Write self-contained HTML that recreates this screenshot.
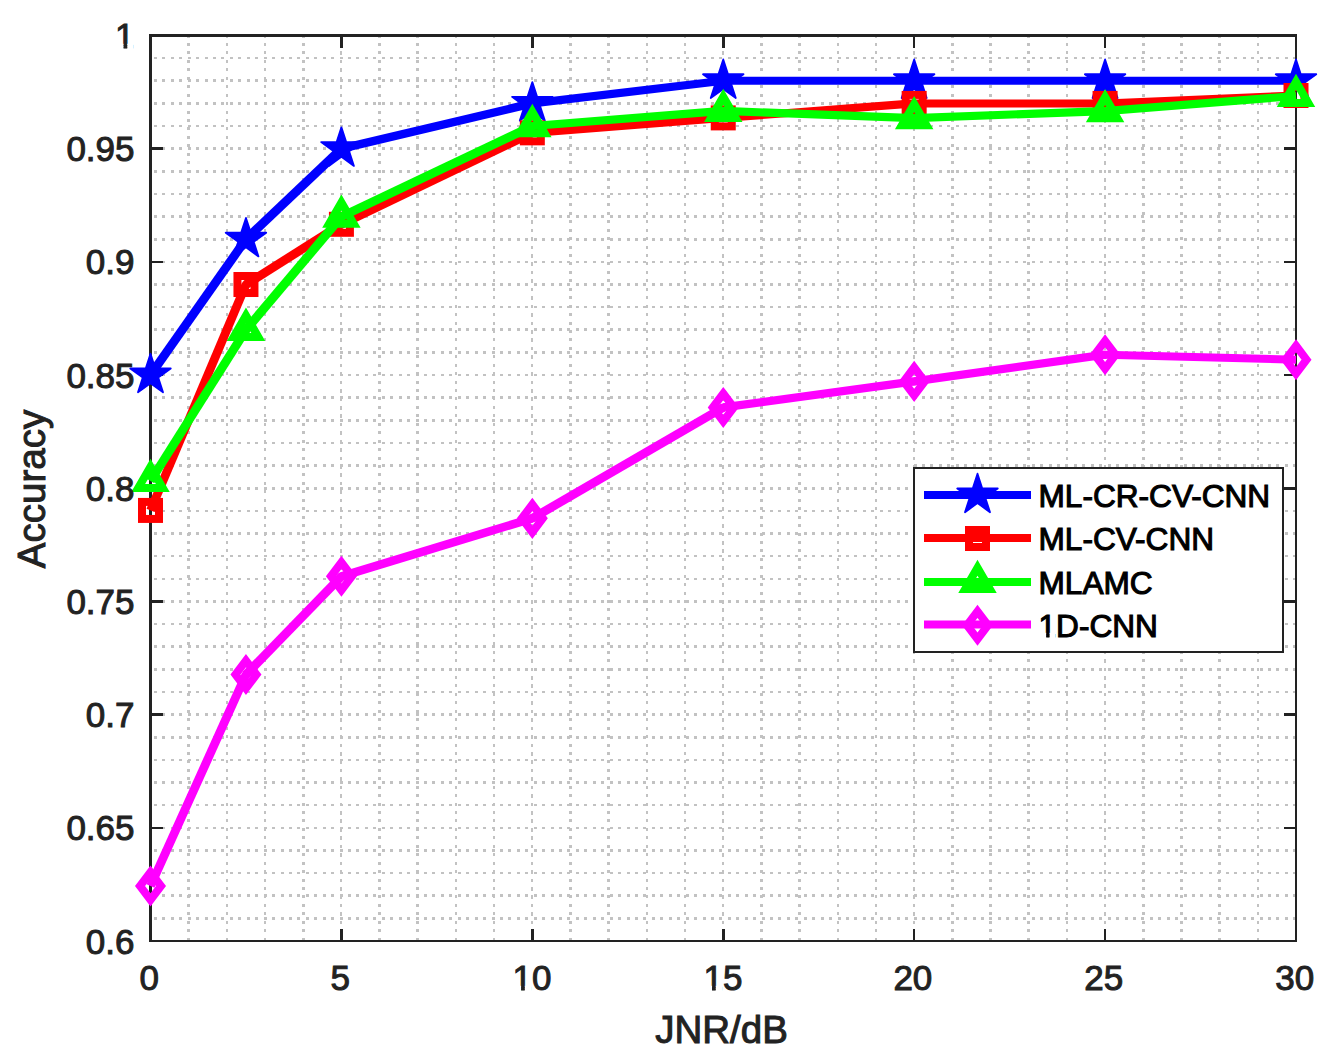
<!DOCTYPE html>
<html lang="en"><head><meta charset="utf-8"><title>Accuracy vs JNR</title>
<style>html,body{margin:0;padding:0;background:#fff}body{width:1329px;height:1062px;overflow:hidden}svg{display:block}text{font-family:"Liberation Sans",Arial,Helvetica,sans-serif}</style></head><body>
<svg width="1329" height="1062" viewBox="0 0 1329 1062">
<rect width="1329" height="1062" fill="#fff"/>
<g stroke="#c2c2c2" stroke-width="2.6" stroke-dasharray="3 5.44" fill="none" shape-rendering="crispEdges">
<line x1="188.68" y1="36" x2="188.68" y2="941" stroke-dashoffset="1.44"/>
<line x1="226.87" y1="36" x2="226.87" y2="941" stroke-dashoffset="1.44"/>
<line x1="265.05" y1="36" x2="265.05" y2="941" stroke-dashoffset="1.44"/>
<line x1="303.23" y1="36" x2="303.23" y2="941" stroke-dashoffset="1.44"/>
<line x1="341.42" y1="36" x2="341.42" y2="941" stroke-dashoffset="1.44" stroke-width="2" stroke-dasharray="3.6 4.84"/>
<line x1="379.6" y1="36" x2="379.6" y2="941" stroke-dashoffset="1.44"/>
<line x1="417.78" y1="36" x2="417.78" y2="941" stroke-dashoffset="1.44"/>
<line x1="455.97" y1="36" x2="455.97" y2="941" stroke-dashoffset="1.44"/>
<line x1="494.15" y1="36" x2="494.15" y2="941" stroke-dashoffset="1.44"/>
<line x1="532.33" y1="36" x2="532.33" y2="941" stroke-dashoffset="1.44" stroke-width="2" stroke-dasharray="3.6 4.84"/>
<line x1="570.52" y1="36" x2="570.52" y2="941" stroke-dashoffset="1.44"/>
<line x1="608.7" y1="36" x2="608.7" y2="941" stroke-dashoffset="1.44"/>
<line x1="646.88" y1="36" x2="646.88" y2="941" stroke-dashoffset="1.44"/>
<line x1="685.07" y1="36" x2="685.07" y2="941" stroke-dashoffset="1.44"/>
<line x1="723.25" y1="36" x2="723.25" y2="941" stroke-dashoffset="1.44" stroke-width="2" stroke-dasharray="3.6 4.84"/>
<line x1="761.43" y1="36" x2="761.43" y2="941" stroke-dashoffset="1.44"/>
<line x1="799.62" y1="36" x2="799.62" y2="941" stroke-dashoffset="1.44"/>
<line x1="837.8" y1="36" x2="837.8" y2="941" stroke-dashoffset="1.44"/>
<line x1="875.98" y1="36" x2="875.98" y2="941" stroke-dashoffset="1.44"/>
<line x1="914.17" y1="36" x2="914.17" y2="941" stroke-dashoffset="1.44" stroke-width="2" stroke-dasharray="3.6 4.84"/>
<line x1="952.35" y1="36" x2="952.35" y2="941" stroke-dashoffset="1.44"/>
<line x1="990.53" y1="36" x2="990.53" y2="941" stroke-dashoffset="1.44"/>
<line x1="1028.72" y1="36" x2="1028.72" y2="941" stroke-dashoffset="1.44"/>
<line x1="1066.9" y1="36" x2="1066.9" y2="941" stroke-dashoffset="1.44"/>
<line x1="1105.08" y1="36" x2="1105.08" y2="941" stroke-dashoffset="1.44" stroke-width="2" stroke-dasharray="3.6 4.84"/>
<line x1="1143.27" y1="36" x2="1143.27" y2="941" stroke-dashoffset="1.44"/>
<line x1="1181.45" y1="36" x2="1181.45" y2="941" stroke-dashoffset="1.44"/>
<line x1="1219.63" y1="36" x2="1219.63" y2="941" stroke-dashoffset="1.44"/>
<line x1="1257.82" y1="36" x2="1257.82" y2="941" stroke-dashoffset="1.44"/>
<line x1="150.5" y1="918.36" x2="1296" y2="918.36" stroke-dashoffset="-3.4"/>
<line x1="150.5" y1="895.72" x2="1296" y2="895.72" stroke-dashoffset="-3.4"/>
<line x1="150.5" y1="873.09" x2="1296" y2="873.09" stroke-dashoffset="-3.4"/>
<line x1="150.5" y1="850.45" x2="1296" y2="850.45" stroke-dashoffset="-3.4"/>
<line x1="150.5" y1="827.81" x2="1296" y2="827.81" stroke-dashoffset="-3.4"/>
<line x1="150.5" y1="805.18" x2="1296" y2="805.18" stroke-dashoffset="-3.4"/>
<line x1="150.5" y1="782.54" x2="1296" y2="782.54" stroke-dashoffset="-3.4"/>
<line x1="150.5" y1="759.9" x2="1296" y2="759.9" stroke-dashoffset="-3.4"/>
<line x1="150.5" y1="737.26" x2="1296" y2="737.26" stroke-dashoffset="-3.4"/>
<line x1="150.5" y1="714.62" x2="1296" y2="714.62" stroke-dashoffset="-3.4"/>
<line x1="150.5" y1="691.99" x2="1296" y2="691.99" stroke-dashoffset="-3.4"/>
<line x1="150.5" y1="669.35" x2="1296" y2="669.35" stroke-dashoffset="-3.4"/>
<line x1="150.5" y1="646.71" x2="1296" y2="646.71" stroke-dashoffset="-3.4"/>
<line x1="150.5" y1="624.08" x2="1296" y2="624.08" stroke-dashoffset="-3.4"/>
<line x1="150.5" y1="601.44" x2="1296" y2="601.44" stroke-dashoffset="-3.4"/>
<line x1="150.5" y1="578.8" x2="1296" y2="578.8" stroke-dashoffset="-3.4"/>
<line x1="150.5" y1="556.16" x2="1296" y2="556.16" stroke-dashoffset="-3.4"/>
<line x1="150.5" y1="533.52" x2="1296" y2="533.52" stroke-dashoffset="-3.4"/>
<line x1="150.5" y1="510.89" x2="1296" y2="510.89" stroke-dashoffset="-3.4"/>
<line x1="150.5" y1="488.25" x2="1296" y2="488.25" stroke-dashoffset="-3.4"/>
<line x1="150.5" y1="465.61" x2="1296" y2="465.61" stroke-dashoffset="-3.4"/>
<line x1="150.5" y1="442.98" x2="1296" y2="442.98" stroke-dashoffset="-3.4"/>
<line x1="150.5" y1="420.34" x2="1296" y2="420.34" stroke-dashoffset="-3.4"/>
<line x1="150.5" y1="397.7" x2="1296" y2="397.7" stroke-dashoffset="-3.4"/>
<line x1="150.5" y1="375.06" x2="1296" y2="375.06" stroke-dashoffset="-3.4"/>
<line x1="150.5" y1="352.43" x2="1296" y2="352.43" stroke-dashoffset="-3.4"/>
<line x1="150.5" y1="329.79" x2="1296" y2="329.79" stroke-dashoffset="-3.4"/>
<line x1="150.5" y1="307.15" x2="1296" y2="307.15" stroke-dashoffset="-3.4"/>
<line x1="150.5" y1="284.51" x2="1296" y2="284.51" stroke-dashoffset="-3.4"/>
<line x1="150.5" y1="261.88" x2="1296" y2="261.88" stroke-dashoffset="-3.4"/>
<line x1="150.5" y1="239.24" x2="1296" y2="239.24" stroke-dashoffset="-3.4"/>
<line x1="150.5" y1="216.6" x2="1296" y2="216.6" stroke-dashoffset="-3.4"/>
<line x1="150.5" y1="193.96" x2="1296" y2="193.96" stroke-dashoffset="-3.4"/>
<line x1="150.5" y1="171.33" x2="1296" y2="171.33" stroke-dashoffset="-3.4"/>
<line x1="150.5" y1="148.69" x2="1296" y2="148.69" stroke-dashoffset="-3.4"/>
<line x1="150.5" y1="126.05" x2="1296" y2="126.05" stroke-dashoffset="-3.4"/>
<line x1="150.5" y1="103.41" x2="1296" y2="103.41" stroke-dashoffset="-3.4"/>
<line x1="150.5" y1="80.77" x2="1296" y2="80.77" stroke-dashoffset="-3.4"/>
<line x1="150.5" y1="58.14" x2="1296" y2="58.14" stroke-dashoffset="-3.4"/>
</g>
<g stroke="#222222" stroke-width="2.5" fill="none" shape-rendering="crispEdges">
<rect x="150.5" y="35.5" width="1145.5" height="905.5"/>
<line x1="341.42" y1="941" x2="341.42" y2="928.7"/>
<line x1="341.42" y1="35.5" x2="341.42" y2="47.8"/>
<line x1="532.33" y1="941" x2="532.33" y2="928.7"/>
<line x1="532.33" y1="35.5" x2="532.33" y2="47.8"/>
<line x1="723.25" y1="941" x2="723.25" y2="928.7"/>
<line x1="723.25" y1="35.5" x2="723.25" y2="47.8"/>
<line x1="914.17" y1="941" x2="914.17" y2="928.7"/>
<line x1="914.17" y1="35.5" x2="914.17" y2="47.8"/>
<line x1="1105.08" y1="941" x2="1105.08" y2="928.7"/>
<line x1="1105.08" y1="35.5" x2="1105.08" y2="47.8"/>
<line x1="150.5" y1="827.81" x2="162.8" y2="827.81"/>
<line x1="1296" y1="827.81" x2="1283.7" y2="827.81"/>
<line x1="150.5" y1="714.62" x2="162.8" y2="714.62"/>
<line x1="1296" y1="714.62" x2="1283.7" y2="714.62"/>
<line x1="150.5" y1="601.44" x2="162.8" y2="601.44"/>
<line x1="1296" y1="601.44" x2="1283.7" y2="601.44"/>
<line x1="150.5" y1="488.25" x2="162.8" y2="488.25"/>
<line x1="1296" y1="488.25" x2="1283.7" y2="488.25"/>
<line x1="150.5" y1="375.06" x2="162.8" y2="375.06"/>
<line x1="1296" y1="375.06" x2="1283.7" y2="375.06"/>
<line x1="150.5" y1="261.88" x2="162.8" y2="261.88"/>
<line x1="1296" y1="261.88" x2="1283.7" y2="261.88"/>
<line x1="150.5" y1="148.69" x2="162.8" y2="148.69"/>
<line x1="1296" y1="148.69" x2="1283.7" y2="148.69"/>
</g>
<g>
<line x1="150.5" y1="375.06" x2="245.96" y2="239.24" stroke="#0000ff" stroke-width="8.85"/>
<line x1="245.96" y1="239.24" x2="341.42" y2="148.69" stroke="#0000ff" stroke-width="8.9"/>
<line x1="341.42" y1="148.69" x2="532.33" y2="103.41" stroke="#0000ff" stroke-width="8.4"/>
<line x1="532.33" y1="103.41" x2="723.25" y2="80.77" stroke="#0000ff" stroke-width="8.21"/>
<line x1="723.25" y1="80.77" x2="914.17" y2="80.77" stroke="#0000ff" stroke-width="8"/>
<line x1="914.17" y1="80.77" x2="1105.08" y2="80.77" stroke="#0000ff" stroke-width="8"/>
<line x1="1105.08" y1="80.77" x2="1296" y2="80.77" stroke="#0000ff" stroke-width="8"/>
<circle cx="245.96" cy="239.24" r="4" fill="#0000ff"/>
<circle cx="341.42" cy="148.69" r="4" fill="#0000ff"/>
<circle cx="532.33" cy="103.41" r="4" fill="#0000ff"/>
<circle cx="723.25" cy="80.77" r="4" fill="#0000ff"/>
<circle cx="914.17" cy="80.77" r="4" fill="#0000ff"/>
<circle cx="1105.08" cy="80.77" r="4" fill="#0000ff"/>
<polygon points="150.5,353.76 155.28,368.48 170.76,368.48 158.24,377.58 163.02,392.29 150.5,383.2 137.98,392.29 142.76,377.58 130.24,368.48 145.72,368.48" fill="#0000ff" stroke="#0000ff" stroke-width="1.8" stroke-linejoin="round"/>
<polygon points="245.96,217.94 250.74,232.65 266.22,232.66 253.7,241.75 258.48,256.47 245.96,247.37 233.44,256.47 238.22,241.75 225.7,232.66 241.18,232.65" fill="#0000ff" stroke="#0000ff" stroke-width="1.8" stroke-linejoin="round"/>
<polygon points="341.42,127.39 346.2,142.1 361.67,142.11 349.16,151.2 353.94,165.92 341.42,156.82 328.9,165.92 333.68,151.2 321.16,142.11 336.63,142.1" fill="#0000ff" stroke="#0000ff" stroke-width="1.8" stroke-linejoin="round"/>
<polygon points="532.33,82.11 537.12,96.83 552.59,96.83 540.07,105.93 544.85,120.64 532.33,111.55 519.81,120.64 524.59,105.93 512.08,96.83 527.55,96.83" fill="#0000ff" stroke="#0000ff" stroke-width="1.8" stroke-linejoin="round"/>
<polygon points="723.25,59.47 728.03,74.19 743.51,74.19 730.99,83.29 735.77,98.01 723.25,88.91 710.73,98.01 715.51,83.29 702.99,74.19 718.47,74.19" fill="#0000ff" stroke="#0000ff" stroke-width="1.8" stroke-linejoin="round"/>
<polygon points="914.17,59.47 918.95,74.19 934.42,74.19 921.91,83.29 926.69,98.01 914.17,88.91 901.65,98.01 906.43,83.29 893.91,74.19 909.38,74.19" fill="#0000ff" stroke="#0000ff" stroke-width="1.8" stroke-linejoin="round"/>
<polygon points="1105.08,59.47 1109.87,74.19 1125.34,74.19 1112.82,83.29 1117.6,98.01 1105.08,88.91 1092.56,98.01 1097.34,83.29 1084.83,74.19 1100.3,74.19" fill="#0000ff" stroke="#0000ff" stroke-width="1.8" stroke-linejoin="round"/>
<polygon points="1296,59.47 1300.78,74.19 1316.26,74.19 1303.74,83.29 1308.52,98.01 1296,88.91 1283.48,98.01 1288.26,83.29 1275.74,74.19 1291.22,74.19" fill="#0000ff" stroke="#0000ff" stroke-width="1.8" stroke-linejoin="round"/>
</g>
<g>
<line x1="150.5" y1="510.43" x2="245.96" y2="284.51" stroke="#ff0000" stroke-width="8.65"/>
<line x1="245.96" y1="284.51" x2="341.42" y2="224.3" stroke="#ff0000" stroke-width="8.81"/>
<line x1="341.42" y1="224.3" x2="532.33" y2="132.84" stroke="#ff0000" stroke-width="8.7"/>
<line x1="532.33" y1="132.84" x2="723.25" y2="117.9" stroke="#ff0000" stroke-width="8.14"/>
<line x1="723.25" y1="117.9" x2="914.17" y2="103.41" stroke="#ff0000" stroke-width="8.14"/>
<line x1="914.17" y1="103.41" x2="1105.08" y2="103.41" stroke="#ff0000" stroke-width="8"/>
<line x1="1105.08" y1="103.41" x2="1296" y2="95.49" stroke="#ff0000" stroke-width="8.07"/>
<circle cx="245.96" cy="284.51" r="4" fill="#ff0000"/>
<circle cx="341.42" cy="224.3" r="4" fill="#ff0000"/>
<circle cx="532.33" cy="132.84" r="4" fill="#ff0000"/>
<circle cx="723.25" cy="117.9" r="4" fill="#ff0000"/>
<circle cx="914.17" cy="103.41" r="4" fill="#ff0000"/>
<circle cx="1105.08" cy="103.41" r="4" fill="#ff0000"/>
<rect x="142" y="501.93" width="17" height="17" fill="none" stroke="#ff0000" stroke-width="8"/>
<rect x="237.46" y="276.01" width="17" height="17" fill="none" stroke="#ff0000" stroke-width="8"/>
<rect x="332.92" y="215.8" width="17" height="17" fill="none" stroke="#ff0000" stroke-width="8"/>
<rect x="523.83" y="124.34" width="17" height="17" fill="none" stroke="#ff0000" stroke-width="8"/>
<rect x="714.75" y="109.4" width="17" height="17" fill="none" stroke="#ff0000" stroke-width="8"/>
<rect x="905.67" y="94.91" width="17" height="17" fill="none" stroke="#ff0000" stroke-width="8"/>
<rect x="1096.58" y="94.91" width="17" height="17" fill="none" stroke="#ff0000" stroke-width="8"/>
<rect x="1287.5" y="86.99" width="17" height="17" fill="none" stroke="#ff0000" stroke-width="8"/>
</g>
<g>
<line x1="150.5" y1="481.01" x2="245.96" y2="329.79" stroke="#00ff00" stroke-width="8.81"/>
<line x1="245.96" y1="329.79" x2="341.42" y2="216.6" stroke="#00ff00" stroke-width="8.89"/>
<line x1="341.42" y1="216.6" x2="532.33" y2="126.05" stroke="#00ff00" stroke-width="8.7"/>
<line x1="532.33" y1="126.05" x2="723.25" y2="110.88" stroke="#00ff00" stroke-width="8.14"/>
<line x1="723.25" y1="110.88" x2="914.17" y2="118.13" stroke="#00ff00" stroke-width="8.07"/>
<line x1="914.17" y1="118.13" x2="1105.08" y2="111.11" stroke="#00ff00" stroke-width="8.07"/>
<line x1="1105.08" y1="111.11" x2="1296" y2="95.94" stroke="#00ff00" stroke-width="8.14"/>
<circle cx="245.96" cy="329.79" r="4" fill="#00ff00"/>
<circle cx="341.42" cy="216.6" r="4" fill="#00ff00"/>
<circle cx="532.33" cy="126.05" r="4" fill="#00ff00"/>
<circle cx="723.25" cy="110.88" r="4" fill="#00ff00"/>
<circle cx="914.17" cy="118.13" r="4" fill="#00ff00"/>
<circle cx="1105.08" cy="111.11" r="4" fill="#00ff00"/>
<polygon points="150.5,466.81 162.8,488.11 138.2,488.11" fill="none" stroke="#00ff00" stroke-width="8" stroke-miterlimit="10"/>
<polygon points="245.96,315.59 258.26,336.89 233.66,336.89" fill="none" stroke="#00ff00" stroke-width="8" stroke-miterlimit="10"/>
<polygon points="341.42,202.4 353.71,223.7 329.12,223.7" fill="none" stroke="#00ff00" stroke-width="8" stroke-miterlimit="10"/>
<polygon points="532.33,111.85 544.63,133.15 520.04,133.15" fill="none" stroke="#00ff00" stroke-width="8" stroke-miterlimit="10"/>
<polygon points="723.25,96.68 735.55,117.98 710.95,117.98" fill="none" stroke="#00ff00" stroke-width="8" stroke-miterlimit="10"/>
<polygon points="914.17,103.93 926.46,125.23 901.87,125.23" fill="none" stroke="#00ff00" stroke-width="8" stroke-miterlimit="10"/>
<polygon points="1105.08,96.91 1117.38,118.21 1092.79,118.21" fill="none" stroke="#00ff00" stroke-width="8" stroke-miterlimit="10"/>
<polygon points="1296,81.74 1308.3,103.04 1283.7,103.04" fill="none" stroke="#00ff00" stroke-width="8" stroke-miterlimit="10"/>
</g>
<g>
<line x1="150.5" y1="885.99" x2="245.96" y2="674.56" stroke="#ff00ff" stroke-width="8.68"/>
<line x1="245.96" y1="674.56" x2="341.42" y2="576.31" stroke="#ff00ff" stroke-width="8.9"/>
<line x1="341.42" y1="576.31" x2="532.33" y2="518.36" stroke="#ff00ff" stroke-width="8.5"/>
<line x1="532.33" y1="518.36" x2="723.25" y2="407.43" stroke="#ff00ff" stroke-width="8.78"/>
<line x1="723.25" y1="407.43" x2="914.17" y2="381.4" stroke="#ff00ff" stroke-width="8.24"/>
<line x1="914.17" y1="381.4" x2="1105.08" y2="354.69" stroke="#ff00ff" stroke-width="8.25"/>
<line x1="1105.08" y1="354.69" x2="1296" y2="359.67" stroke="#ff00ff" stroke-width="8.05"/>
<circle cx="245.96" cy="674.56" r="4" fill="#ff00ff"/>
<circle cx="341.42" cy="576.31" r="4" fill="#ff00ff"/>
<circle cx="532.33" cy="518.36" r="4" fill="#ff00ff"/>
<circle cx="723.25" cy="407.43" r="4" fill="#ff00ff"/>
<circle cx="914.17" cy="381.4" r="4" fill="#ff00ff"/>
<circle cx="1105.08" cy="354.69" r="4" fill="#ff00ff"/>
<polygon points="150.5,872.09 161,885.99 150.5,899.89 140,885.99" fill="none" stroke="#ff00ff" stroke-width="8" stroke-miterlimit="10"/>
<polygon points="245.96,660.66 256.46,674.56 245.96,688.46 235.46,674.56" fill="none" stroke="#ff00ff" stroke-width="8" stroke-miterlimit="10"/>
<polygon points="341.42,562.41 351.92,576.31 341.42,590.21 330.92,576.31" fill="none" stroke="#ff00ff" stroke-width="8" stroke-miterlimit="10"/>
<polygon points="532.33,504.46 542.83,518.36 532.33,532.26 521.83,518.36" fill="none" stroke="#ff00ff" stroke-width="8" stroke-miterlimit="10"/>
<polygon points="723.25,393.53 733.75,407.43 723.25,421.33 712.75,407.43" fill="none" stroke="#ff00ff" stroke-width="8" stroke-miterlimit="10"/>
<polygon points="914.17,367.5 924.67,381.4 914.17,395.3 903.67,381.4" fill="none" stroke="#ff00ff" stroke-width="8" stroke-miterlimit="10"/>
<polygon points="1105.08,340.79 1115.58,354.69 1105.08,368.59 1094.58,354.69" fill="none" stroke="#ff00ff" stroke-width="8" stroke-miterlimit="10"/>
<polygon points="1296,345.77 1306.5,359.67 1296,373.57 1285.5,359.67" fill="none" stroke="#ff00ff" stroke-width="8" stroke-miterlimit="10"/>
</g>
<rect x="914" y="468" width="369" height="184" fill="#fff" stroke="#222222" stroke-width="2" shape-rendering="crispEdges"/>
<line x1="924" y1="495" x2="1031" y2="495" stroke="#0000ff" stroke-width="8"/>
<polygon points="977.5,473.7 982.28,488.42 997.76,488.42 985.24,497.51 990.02,512.23 977.5,503.14 964.98,512.23 969.76,497.51 957.24,488.42 972.72,488.42" fill="#0000ff" stroke="#0000ff" stroke-width="1.8" stroke-linejoin="round"/>
<text x="1038.5" y="507" font-size="31.6" fill="#000" stroke="#000" stroke-width="1.1" >ML-CR-CV-CNN</text>
<line x1="924" y1="538" x2="1031" y2="538" stroke="#ff0000" stroke-width="8"/>
<rect x="969" y="530" width="17" height="17" fill="none" stroke="#ff0000" stroke-width="8"/>
<text x="1038.5" y="550" font-size="31.6" fill="#000" stroke="#000" stroke-width="1.1" >ML-CV-CNN</text>
<line x1="924" y1="582" x2="1031" y2="582" stroke="#00ff00" stroke-width="8"/>
<polygon points="977.5,567.8 989.8,589.1 965.2,589.1" fill="none" stroke="#00ff00" stroke-width="8" stroke-miterlimit="10"/>
<text x="1038.5" y="594" font-size="31.6" fill="#000" stroke="#000" stroke-width="1.1" >MLAMC</text>
<line x1="924" y1="624.6" x2="1031" y2="624.6" stroke="#ff00ff" stroke-width="8"/>
<polygon points="977.5,611.3 988,625.2 977.5,639.1 967,625.2" fill="none" stroke="#ff00ff" stroke-width="8" stroke-miterlimit="10"/>
<text x="1038.5" y="636.6" font-size="31.6" fill="#000" stroke="#000" stroke-width="1.1" clip-path="url(#c0)">1D-CNN</text>
<g font-size="35" fill="#222222" stroke="#222222" stroke-width="1.0">
<text x="134.5" y="953.6" text-anchor="end" >0.6</text>
<text x="134.5" y="840.41" text-anchor="end" >0.65</text>
<text x="134.5" y="727.23" text-anchor="end" >0.7</text>
<text x="134.5" y="614.04" text-anchor="end" >0.75</text>
<text x="134.5" y="500.85" text-anchor="end" >0.8</text>
<text x="134.5" y="387.66" text-anchor="end" >0.85</text>
<text x="134.5" y="274.48" text-anchor="end" >0.9</text>
<text x="134.5" y="161.29" text-anchor="end" >0.95</text>
<text x="134.5" y="48.1" text-anchor="end" clip-path="url(#c1)">1</text>
<text x="149.2" y="990.2" text-anchor="middle" >0</text>
<text x="340.12" y="990.2" text-anchor="middle" >5</text>
<text x="532.03" y="990.2" text-anchor="middle" clip-path="url(#c2)">10</text>
<text x="722.95" y="990.2" text-anchor="middle" clip-path="url(#c3)">15</text>
<text x="912.87" y="990.2" text-anchor="middle" >20</text>
<text x="1103.78" y="990.2" text-anchor="middle" >25</text>
<text x="1294.7" y="990.2" text-anchor="middle" >30</text>
</g>
<g font-size="38.5" fill="#222222" stroke="#222222" stroke-width="1.0">
<text x="721.5" y="1042.5" text-anchor="middle">JNR/dB</text>
<text transform="translate(44.6,489) rotate(-90)" text-anchor="middle">Accuracy</text>
</g>
<defs><clipPath id="c0"><polygon points="1032.5,598.68 1204.5,598.68 1204.5,649.24 1055.41,649.24 1055.41,632.65 1049.53,632.65 1049.53,649.24 1046.18,649.24 1046.18,632.65 1032.5,632.65"/></clipPath><clipPath id="c1"><polygon points="109.04,6.1 140.5,6.1 140.5,62.1 133.76,62.1 133.76,43.72 127.25,43.72 127.25,62.1 123.54,62.1 123.54,43.72 109.04,43.72"/></clipPath><clipPath id="c2"><polygon points="506.57,948.2 557.49,948.2 557.49,1004.2 531.3,1004.2 531.3,985.83 524.79,985.83 524.79,1004.2 521.08,1004.2 521.08,985.83 506.57,985.83"/></clipPath><clipPath id="c3"><polygon points="697.49,948.2 748.41,948.2 748.41,1004.2 722.22,1004.2 722.22,985.83 715.71,985.83 715.71,1004.2 712,1004.2 712,985.83 697.49,985.83"/></clipPath></defs>
</svg></body></html>
